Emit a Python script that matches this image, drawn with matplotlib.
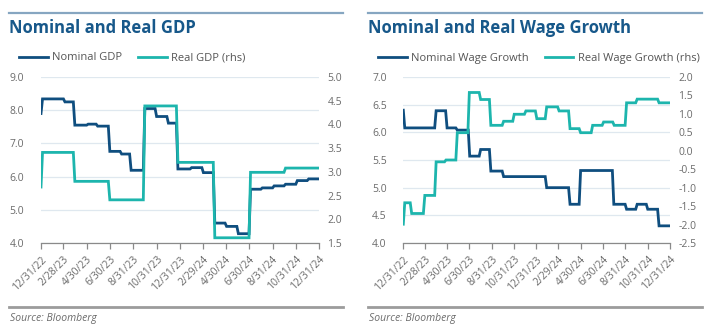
import matplotlib
matplotlib.use('Agg')
import matplotlib.pyplot as plt
import matplotlib.dates as mdates
from matplotlib.lines import Line2D
from datetime import datetime, timedelta
import numpy as np

plt.rcParams['font.family'] = ['Open Sans', 'DejaVu Sans']
plt.rcParams['axes.unicode_minus'] = False

NAVY = '#0f4e7f'
TEAL = '#1db5ad'
TITLE = '#17588a'
GREY = '#6b6b6b'

# GDP forecasts: change dates and levels
gdp_nom_dates = ['2022-12-31', '2022-12-31', '2023-02-28', '2023-03-26', '2023-04-30',
                 '2023-05-25', '2023-06-26', '2023-07-27', '2023-08-21', '2023-09-26',
                 '2023-10-27', '2023-11-27', '2023-12-22', '2024-01-27', '2024-02-27',
                 '2024-03-28', '2024-04-28', '2024-05-29', '2024-06-30', '2024-07-31',
                 '2024-08-31', '2024-09-30', '2024-10-31', '2024-11-30']
gdp_nom = [7.9, 8.34, 8.25, 7.55, 7.58, 7.52, 6.76, 6.68, 6.19, 8.05,
           7.81, 7.61, 6.23, 6.27, 6.12, 4.60, 4.50, 4.28, 5.62, 5.66,
           5.72, 5.77, 5.88, 5.93]

gdp_real_dates = ['2022-12-31', '2022-12-31', '2023-03-26', '2023-06-26', '2023-09-26',
                  '2023-12-22', '2024-03-28', '2024-06-30', '2024-09-30']
gdp_real = [2.68, 3.41, 2.80, 2.41, 4.39, 3.20, 1.61, 2.99, 3.08]

# Wage growth: change dates and levels
wage_nom_dates = ['2022-12-31', '2022-12-31', '2023-03-27', '2023-04-26', '2023-05-24',
                  '2023-06-27', '2023-07-27', '2023-08-24', '2023-09-28', '2024-01-24',
                  '2024-03-28', '2024-04-26', '2024-07-26', '2024-08-30', '2024-09-28',
                  '2024-10-27', '2024-11-27']
wage_nom = [6.40, 6.08, 6.39, 6.08, 6.04, 5.57, 5.69, 5.30, 5.20, 5.00,
            4.70, 5.31, 4.70, 4.61, 4.70, 4.61, 4.31]

wage_real_dates = ['2022-12-31', '2022-12-31', '2023-01-19', '2023-02-24', '2023-03-27',
                   '2023-04-23', '2023-05-24', '2023-06-26', '2023-07-27', '2023-08-24',
                   '2023-09-28', '2023-10-27', '2023-11-28', '2023-12-28', '2024-01-24',
                   '2024-02-27', '2024-03-28', '2024-04-26', '2024-05-29', '2024-06-28',
                   '2024-07-27', '2024-08-30', '2024-09-28', '2024-11-27']
wage_real = [-1.99, -1.41, -1.70, -1.21, -0.30, -0.25, 0.49, 1.58, 1.39, 0.69,
             0.80, 0.99, 1.08, 0.87, 1.19, 1.08, 0.60, 0.49, 0.69, 0.78,
             0.69, 1.30, 1.40, 1.30]

tick_dates = ['2022-12-31', '2023-02-28', '2023-04-30', '2023-06-30', '2023-08-31',
              '2023-10-31', '2023-12-31', '2024-02-29', '2024-04-30', '2024-06-30',
              '2024-08-31', '2024-10-31', '2024-12-31']
tick_labels = ['12/31/22', '2/28/23', '4/30/23', '6/30/23', '8/31/23', '10/31/23',
               '12/31/23', '2/29/24', '4/30/24', '6/30/24', '8/31/24', '10/31/24',
               '12/31/24']

START = datetime(2022, 12, 31)
END = datetime(2024, 12, 31)


def to_dt(s):
    return datetime.strptime(s, '%Y-%m-%d')


def ramp_steps(dates, values, days=4):
    # level changes take a few days to move from one value to the next
    d = [to_dt(s) for s in dates]
    xs, ys = [d[0]], [values[0]]
    for i in range(1, len(d)):
        xs += [d[i], d[i] + timedelta(days=days)]
        ys += [values[i - 1], values[i]]
    xs.append(END)
    ys.append(values[-1])
    return xs, ys


W, H = 720, 332
fig = plt.figure(figsize=(W / 100, H / 100), dpi=100)


def px(x, y):
    return x / W, 1 - y / H


def panel(x0, ax_left, ax_width, title, nom, real, labels, lims, lims2, step, step2):
    # header rule, title, footer rule, source
    fig.add_artist(Line2D([x0 / W, (x0 + 334) / W], [1 - 13 / H] * 2, color='#86a6c1', lw=1.6))
    fig.text(*px(x0, 28), title, color=TITLE, fontsize=12, fontweight='bold', va='center')
    fig.add_artist(Line2D([x0 / W, (x0 + 334) / W], [1 - 307 / H] * 2, color='#9c9c9c', lw=2.0))
    fig.text(*px(x0 + 1, 319), 'Source: Bloomberg', color=GREY, fontsize=7.5,
             style='italic', va='center')

    ax = fig.add_axes([ax_left / W, 1 - 243 / H, ax_width / W, 166 / H])
    ax2 = ax.twinx()

    xs, ys = ramp_steps(*nom)
    l1, = ax.plot(xs, ys, color=NAVY, lw=2.0, solid_joinstyle='miter')
    xs, ys = ramp_steps(*real)
    l2, = ax2.plot(xs, ys, color=TEAL, lw=2.0, solid_joinstyle='miter')

    ax.set_xlim(START, END)
    ax.set_ylim(*lims)
    ax2.set_ylim(*lims2)
    ax.set_yticks(np.arange(lims[0], lims[1] + 1e-9, step))
    ax2.set_yticks(np.arange(lims2[0], lims2[1] + 1e-9, step2))
    ax.yaxis.set_major_formatter(plt.FormatStrFormatter('%.1f'))
    ax2.yaxis.set_major_formatter(plt.FormatStrFormatter('%.1f'))
    ax.grid(axis='y', color='#dfe8ef', lw=0.9)
    ax.set_axisbelow(True)

    ax.set_xticks([mdates.date2num(to_dt(s)) for s in tick_dates])
    ax.set_xticklabels(tick_labels, rotation=45, ha='right', va='top',
                       rotation_mode='anchor', fontsize=7.5, color=GREY)
    ax.tick_params(axis='x', length=4, width=0.9, color='#8a8a8a', pad=4)
    ax.tick_params(axis='y', length=0, labelsize=7.5, labelcolor=GREY, pad=12)
    ax2.tick_params(axis='y', length=0, labelsize=7.5, labelcolor=GREY, pad=6)

    for a in (ax, ax2):
        for side in ('top', 'left', 'right'):
            a.spines[side].set_visible(False)
    ax.spines['bottom'].set_color('#8a8a8a')
    ax.spines['bottom'].set_linewidth(0.9)
    ax2.spines['bottom'].set_visible(False)

    fig.legend([l1, l2], labels, loc='center left', bbox_to_anchor=px(x0 + 10, 58),
               ncol=2, frameon=False, fontsize=8, labelcolor='#555555',
               handlelength=2.6, handletextpad=0.4, columnspacing=1.4,
               borderaxespad=0, borderpad=0)


panel(9, 41, 278, 'Nominal and Real GDP',
      (gdp_nom_dates, gdp_nom), (gdp_real_dates, gdp_real),
      ['Nominal GDP', 'Real GDP (rhs)'], (4, 9), (1.5, 5.0), 1.0, 0.5)
panel(368, 403.3, 266.7, 'Nominal and Real Wage Growth',
      (wage_nom_dates, wage_nom), (wage_real_dates, wage_real),
      ['Nominal Wage Growth', 'Real Wage Growth (rhs)'], (4, 7), (-2.5, 2.0), 0.5, 0.5)

fig.savefig('out.png', dpi=100)
